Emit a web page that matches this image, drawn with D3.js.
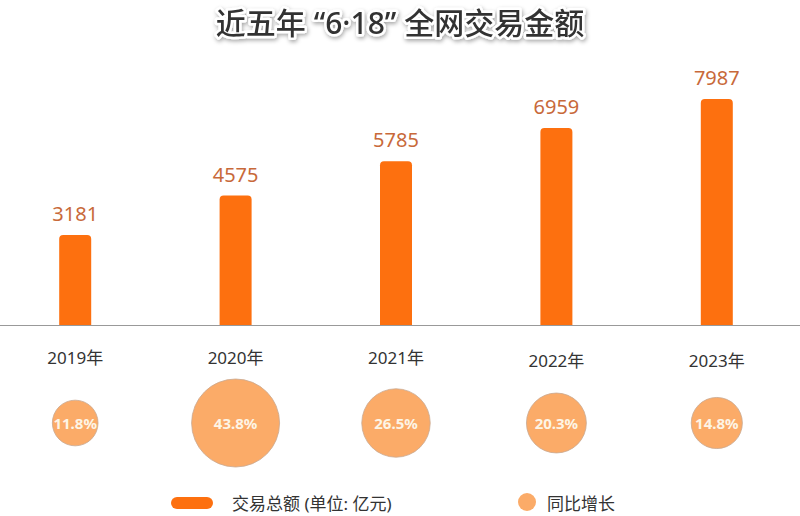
<!DOCTYPE html>
<html><head><meta charset="utf-8">
<script src="https://cdn.jsdelivr.net/npm/d3@7"></script>
<style>body{margin:0;background:#fff}text{font-family:"Noto Sans","Noto Sans CJK SC",sans-serif}</style>
</head><body><svg id="c" width="800" height="516"></svg>
<script>
const years = ['2019年', '2020年', '2021年', '2022年', '2023年']
const totals = [3181, 4575, 5785, 6959, 7987]
const growth = [11.8, 43.8, 26.5, 20.3, 14.8]

const svg = d3.select('#c')
const defs = svg.append('defs')
const f = defs.append('filter').attr('id', 'sh').attr('x', '-10%').attr('y', '-30%').attr('width', '120%').attr('height', '160%')
f.append('feDropShadow').attr('dx', 1).attr('dy', 2).attr('stdDeviation', 2).attr('flood-color', '#000').attr('flood-opacity', 0.35)

svg.append('text').attr('x', 400).attr('y', 34).attr('text-anchor', 'middle')
  .attr('font-size', 30).attr('font-weight', 500).attr('fill', '#333')
  .attr('stroke', '#fff').attr('stroke-width', 5).attr('paint-order', 'stroke')
  .attr('stroke-linejoin', 'round').attr('filter', 'url(#sh)')
  .attr('xml:space', 'preserve').style('white-space', 'pre')
  .text('近五年 “6·18” 全网交易金额')

const x = d3.scaleBand().domain(years).range([-5, 797]).padding(0)
const y = d3.scaleLinear().domain([0, 7987]).range([325, 99])
const r = d3.scaleSqrt().domain([0, 43.8]).range([0, 44])
const bw = 32

svg.append('line').attr('x1', 0).attr('x2', 800).attr('y1', 325.5).attr('y2', 325.5)
  .attr('stroke', '#999').attr('stroke-width', 1.2)

const cx = (d) => x(d) + x.bandwidth() / 2

svg.selectAll('.bar').data(totals).enter().append('path').classed('bar', true)
  .attr('fill', '#fd700f')
  .attr('d', (d, i) => {
    let x0 = cx(years[i]) - bw / 2, y0 = y(d), rr = 4
    return `M${x0},325V${y0 + rr}Q${x0},${y0} ${x0 + rr},${y0}H${x0 + bw - rr}Q${x0 + bw},${y0} ${x0 + bw},${y0 + rr}V325Z`
  })

svg.selectAll('.val').data(totals).enter().append('text')
  .attr('x', (d, i) => cx(years[i])).attr('y', (d) => y(d) - 14)
  .attr('text-anchor', 'middle').attr('font-size', 20).attr('fill', '#c8693a').text((d) => d)

svg.selectAll('.yr').data(years).enter().append('text')
  .attr('x', (d) => cx(d)).attr('y', (d, i) => i < 3 ? 364 : 367)
  .attr('text-anchor', 'middle').attr('font-size', 17).attr('fill', '#333').text((d) => d)

svg.selectAll('.bub').data(growth).enter().append('circle')
  .attr('cx', (d, i) => cx(years[i])).attr('cy', 423).attr('r', (d) => r(d))
  .attr('fill', '#fbab68').attr('stroke', '#c9a890').attr('stroke-width', 0.8)

svg.selectAll('.pct').data(growth).enter().append('text')
  .attr('x', (d, i) => cx(years[i])).attr('y', 429)
  .attr('text-anchor', 'middle').attr('font-size', 15).attr('font-weight', 700).attr('fill', '#fdf5e6')
  .text((d) => d.toFixed(1) + '%')

// legend
svg.append('rect').attr('x', 171).attr('y', 497).attr('width', 42).attr('height', 12).attr('rx', 6).attr('fill', '#fd700f')
svg.append('text').attr('x', 232).attr('y', 510).attr('font-size', 17).attr('fill', '#333').text('交易总额 (单位: 亿元)')
svg.append('circle').attr('cx', 527).attr('cy', 502).attr('r', 9).attr('fill', '#fbab68')
svg.append('text').attr('x', 547).attr('y', 510).attr('font-size', 17).attr('fill', '#333').text('同比增长')
</script></body></html>
